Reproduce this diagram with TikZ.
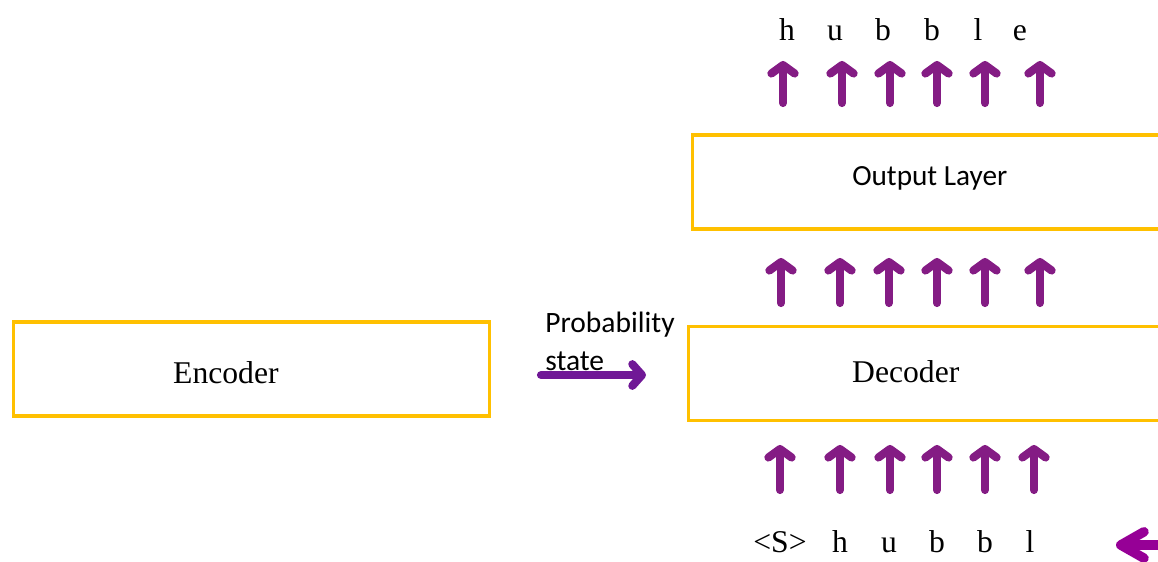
\documentclass[tikz,border=0pt]{standalone}
\usepackage{fontspec}
\setmainfont{Liberation Serif}
\newfontfamily\calibri{Carlito}
\usetikzlibrary{arrows.meta,positioning}

\definecolor{boxgold}{RGB}{255,192,0}
\definecolor{arrpurple}{RGB}{132,28,132}
\definecolor{arrmagenta}{RGB}{150,0,150}

\tikzset{
  layerbox/.style={draw=boxgold, line width=2.2pt, minimum height=2.35cm, inner sep=0pt},
  serifbig/.style={font=\fontsize{22.5}{27}\selectfont},
  upar/.style={draw=arrpurple, line width=5.8pt, line cap=round,
    -{Straight Barb[length=2.1mm, width=5.8mm, line cap=round, line join=round]}},
  tok/.style={font=\fontsize{22.5}{27}\selectfont, inner sep=0pt, anchor=base}
}

\begin{document}
\begin{tikzpicture}[x=0.025cm, y=-0.025cm]
    \useasboundingbox (0,0) rectangle (1158,561);

    % Boxes
    \node[layerbox, minimum width=11.9cm,
      label={[serifbig, xshift=-0.64cm, yshift=-0.08cm]center:Encoder}] (enc) at (251.5,369) {};
    \node[layerbox, minimum width=12.6cm,
      label={[serifbig, xshift=-0.88cm, yshift=0.04cm]center:Decoder}] (dec) at (941,373.5) {};
    \node[layerbox, minimum width=12.6cm,
      label={[font=\calibri\fontsize{20.8}{25}\selectfont, xshift=-0.38cm, yshift=0.1cm]center:Output Layer}] (out) at (945,182) {};

    % Probability state
    \node[align=left, inner sep=0pt, anchor=north west, font=\calibri\fontsize{21}{26.5}\selectfont] (prob) at (545,312) {Probability\\state};
    \coordinate (pa) at (541,375);
    \coordinate (pb) at (646,375);
    \draw[upar, draw=arrpurple!85!blue, -{Straight Barb[length=2.4mm, width=5.4mm, line cap=round, line join=round]}] (pa) -- (pb);

    % Tokens
    \foreach \x/\t [count=\i] in {787/h,835/u,883/b,932/b,978/l,1020/e}
        \node[tok] (o\i) at (\x,40) {\t};
    \foreach \x/\t [count=\i] in {780/{<S>},840/h,889/u,937/b,985/b,1030/l}
        \node[tok] (s\i) at (\x,552) {\t};

    % Arrows between layers
    \foreach \x [count=\i] in {783,842,890,937,985,1040} {
        \coordinate (a\i) at (\x,103);
        \coordinate (b\i) at (\x,61);
        \draw[upar] (a\i) -- (b\i);
    }
    \foreach \x [count=\i] in {781,840,889,937,985,1040} {
        \coordinate (c\i) at (\x,303);
        \coordinate (d\i) at (\x,258);
        \draw[upar] (c\i) -- (d\i);
    }
    \foreach \x [count=\i] in {780,840,890,937,985,1034} {
        \coordinate (e\i) at (\x,490);
        \coordinate (f\i) at (\x,445);
        \draw[upar] (e\i) -- (f\i);
    }

    % Feedback arrow
    \coordinate (fa) at (1165,545);
    \coordinate (fb) at (1116,545);
    \draw[upar, draw=arrmagenta, line width=6.8pt,
      -{Straight Barb[length=5.8mm, width=6.6mm, line cap=round, line join=round]}] (fa) -- (fb);
\end{tikzpicture}
\end{document}
